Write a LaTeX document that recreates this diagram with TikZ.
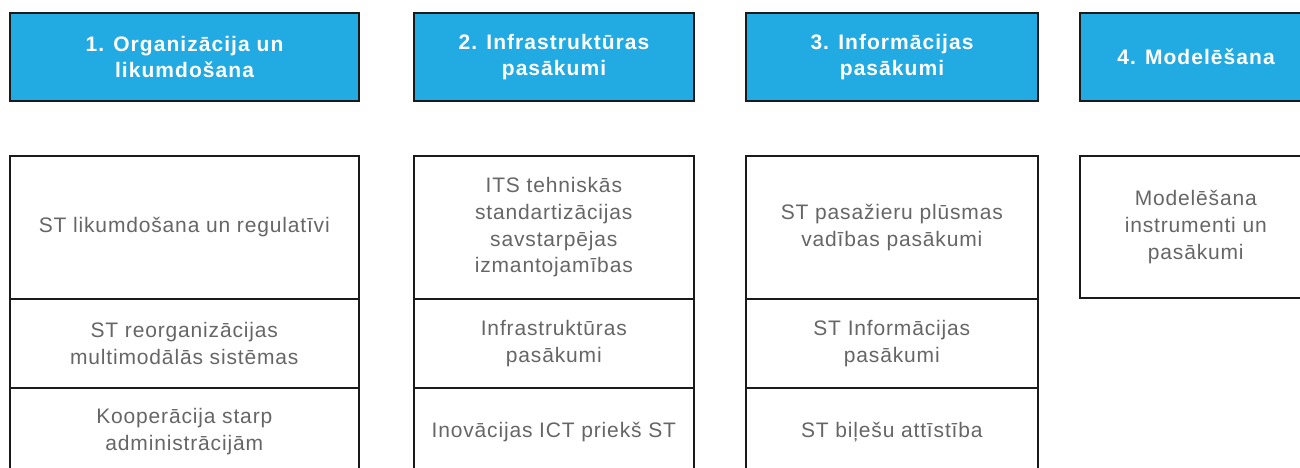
\documentclass[tikz,border=0pt]{standalone}
\usepackage{fontspec}
\setmainfont{Liberation Sans}[LetterSpace=4]
\definecolor{hdrblue}{HTML}{22AAE2}
\definecolor{txtgray}{HTML}{666666}
\definecolor{edge}{HTML}{1A1A1A}
\tikzset{
  hdr/.style={draw=edge, line width=2pt, fill=hdrblue, text=white,
    font=\fontsize{21}{26.5}\selectfont\bfseries\addfontfeature{LetterSpace=5},
    align=center, inner sep=0pt, anchor=north west, minimum height=88pt},
  cell/.style={draw=edge, line width=1.6pt, fill=white, text=txtgray, font=\fontsize{21}{26.8}\selectfont,
    align=center, inner sep=0pt, anchor=north west},
}
\begin{document}
\begin{tikzpicture}[x=1pt,y=-1pt]
\useasboundingbox (0,0) rectangle (1300,468);
\clip (0,0) rectangle (1300,468);
\fill[white] (0,0) rectangle (1300,468);
% headers
\node[hdr, minimum width=349pt] (h1) at (9,12) {1. Organizācija un\\likumdošana};
\node[hdr, minimum width=280pt] (h2) at (413,12) {2. Infrastruktūras\\pasākumi};
\node[hdr, minimum width=292pt] (h3) at (745,12) {3. Informācijas\\pasākumi};
\node[hdr, minimum width=232pt] (h4) at (1079,12) {4. Modelēšana};
% column 1
\node[cell, minimum width=349pt, minimum height=143pt] (c11) at (9,155) {ST likumdošana un regulatīvi};
\node[cell, minimum width=349pt, minimum height=89pt] (c12) at (9,298) {ST reorganizācijas\\multimodālās sistēmas};
\node[cell, minimum width=349pt, minimum height=88pt] (c13) at (9,387) {Kooperācija starp\\administrācijām};
% column 2
\node[cell, minimum width=280pt, minimum height=143pt] (c21) at (413,155) {ITS tehniskās\\standartizācijas\\savstarpējas\\izmantojamības};
\node[cell, minimum width=280pt, minimum height=89pt] (c22) at (413,298) {Infrastruktūras\\pasākumi};
\node[cell, minimum width=280pt, minimum height=88pt] (c23) at (413,387) {Inovācijas ICT priekš ST};
% column 3
\node[cell, minimum width=292pt, minimum height=143pt] (c31) at (745,155) {ST pasažieru plūsmas\\vadības pasākumi};
\node[cell, minimum width=292pt, minimum height=89pt] (c32) at (745,298) {ST Informācijas\\pasākumi};
\node[cell, minimum width=292pt, minimum height=88pt] (c33) at (745,387) {ST biļešu attīstība};
% column 4
\node[cell, minimum width=232pt, minimum height=142pt] (c41) at (1079,155) {Modelēšana\\instrumenti un\\pasākumi};
\end{tikzpicture}
\end{document}
